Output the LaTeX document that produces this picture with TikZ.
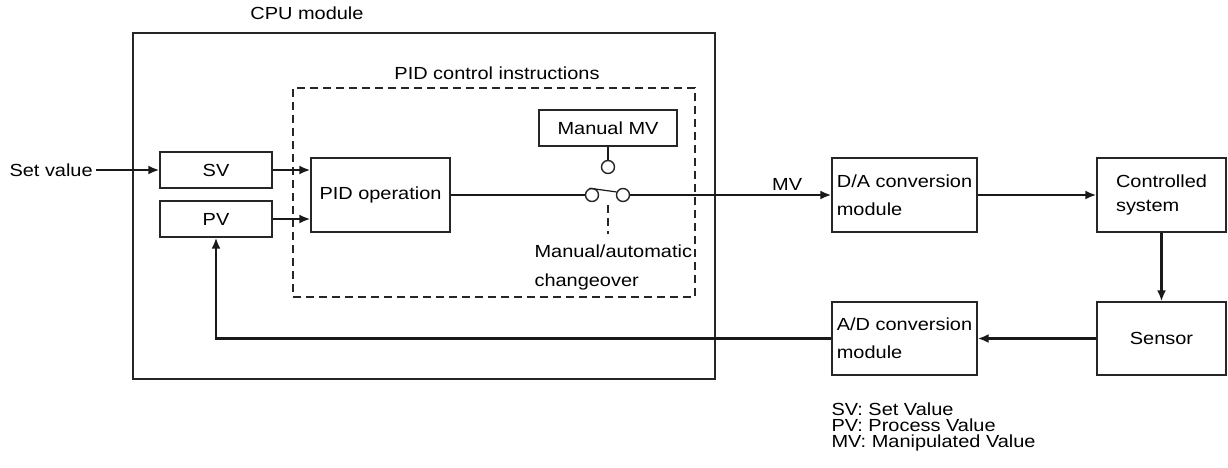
\documentclass[tikz,border=0pt]{standalone}
\usepackage{fontspec}
\setmainfont[FakeStretch=1.14]{Liberation Sans}
\usetikzlibrary{arrows.meta}

\begin{document}
\begin{tikzpicture}[x=1pt,y=-1pt,>={Latex[length=11pt,width=9pt]},
  every node/.style={font=\fontsize{17.5}{28}\selectfont},
  blk/.style={draw=black!85,line width=1.3pt,minimum height=36pt,inner sep=0pt},
  contact/.style={circle,draw=black!85,line width=1.4pt,minimum size=13pt,inner sep=0pt},
  flow/.style={draw=black!90,line width=2.2pt,->},
  dashln/.style={draw=black!85,line width=1.2pt,dash pattern=on 8pt off 5pt}]
\useasboundingbox (0,0) rectangle (1228,468);

% CPU module and the PID instruction block
\node (cpulbl) at (307,13) {CPU module};
\node[blk,minimum width=582pt,minimum height=346pt] (cpu) at (424,206) {};
\node[dashln,minimum width=402pt,minimum height=209pt] (pid) at (494,192.5) {};
\node (pidlbl) at (497,73) {PID control instructions};

\node[blk,minimum width=112pt] (sv) at (216,170) {SV};
\node[blk,minimum width=112pt] (pv) at (216,219) {PV};
\node[blk,minimum width=139pt,minimum height=74pt] (op) at (380.5,195) {PID operation};
\node[blk,minimum width=138pt] (man) at (608,128) {Manual MV};

% changeover switch
\node[contact] (swt) at (608,167) {};
\node[contact] (swl) at (592,195) {};
\node[contact] (swr) at (623,195) {};
\coordinate (acttop) at (608,205);
\coordinate (actbot) at (608,234);
\node[anchor=west,align=left,font=\fontsize{17.5}{29}\selectfont] (chg) at (531,267.5)
  {Manual/automatic\\changeover};

\node[anchor=west] (setv) at (6,170) {Set value};

% outside the CPU module
\node[blk,minimum width=145pt,minimum height=74pt,align=left] (da) at (904.5,195)
  {D/A conversion\\module};
\node[blk,minimum width=129pt,minimum height=74pt,align=left,
  font=\fontsize{17.5}{24}\selectfont] (sys) at (1161.5,195) {Controlled\\system};
\node[blk,minimum width=129pt,minimum height=73pt] (sen) at (1161.5,338.5) {Sensor};
\node[blk,minimum width=145pt,minimum height=73pt,align=left] (ad) at (904.5,338.5)
  {A/D conversion\\module};

\node[anchor=west,align=left,font=\fontsize{17.5}{15.8}\selectfont] (key) at (828,427)
  {SV: Set Value\\PV: Process Value\\MV: Manipulated Value};

% signal flow
\draw[flow] (setv) -- (sv);
\draw[flow] (sv) -- (sv -| op.west);
\draw[flow] (pv) -- (pv -| op.west);
\draw[draw=black!90,line width=2.2pt] (op) -- (swl);
\draw[draw=black!90,line width=1.6pt] (man) -- (swt);
\draw[draw=black!90,line width=1.2pt] (swl.110) -- (swr.155);
\draw[dashln] (acttop) -- (actbot);
\draw[flow] (swr) -- node[pos=0.78,above] (mvlbl) {MV} (da);
\draw[flow] (da) -- (sys);
\draw[flow] (sys) -- (sen);
\draw[flow] (sen) -- (ad);
\draw[flow] (ad.west) -| (pv.south);
\end{tikzpicture}
\end{document}
